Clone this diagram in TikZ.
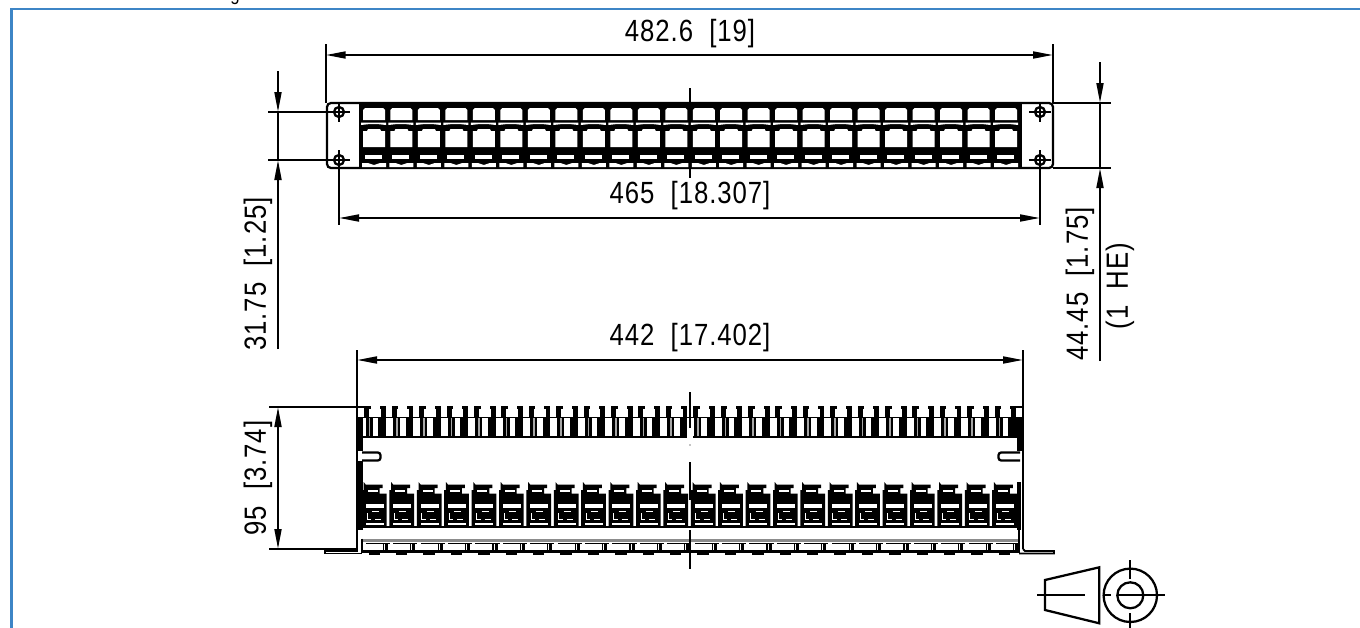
\documentclass[tikz,border=0pt]{standalone}
\usepackage{fontspec}
\setmainfont[FakeStretch=.84,LetterSpace=3,WordSpace=2]{Liberation Sans}
\usetikzlibrary{arrows.meta}
\definecolor{framecolor}{HTML}{3D85C6}
\tikzset{
  part/.style={line width=1.7pt,black},
  thinpart/.style={line width=1.4pt,black},
  dimline/.style={line width=1.5pt,black},
  dimarrow/.style={dimline,-{Triangle[length=15pt,width=5.2pt]}},
  dimboth/.style={dimline,{Triangle[length=15pt,width=5.2pt]}-{Triangle[length=15pt,width=5.2pt]}},
  dimtext/.style={inner sep=0pt,font=\fontsize{23}{23}\selectfont},
  hole/.pic={
    \draw[part] (0,0) circle (5);
    \draw[thinpart] (-11,0) -- (11,0);
    \draw[part,line width=2.2pt] (0,-10) -- (0,10);
  }
}
\begin{document}
\begin{tikzpicture}[x=0.75pt,y=-0.75pt]
  \useasboundingbox (0,0) rectangle (1360,628);
  \draw[framecolor,line width=2.2pt] (11.5,628) -- (11.5,9) -- (1360,9);
  \node[anchor=base,inner sep=0pt,font=\fontsize{15}{15}\selectfont] (cutoff) at (235,0) {g};

  % front view
  \draw[part,rounded corners=3pt] (327,103) rectangle (1053,168);
  \fill[black] (359,103) rectangle (1022,168);
  \foreach \i in {0,...,23}{
    \begin{scope}[xshift=\i*20.61pt]
      \fill[white] (363,110) -- (365,108) -- (383,108) -- (385,110) -- (385,120) -- (363,120) -- cycle;
      \fill[white] (361,122.5) -- (386,122.5) -- (386,125) -- (377,124) -- (370,124) -- (361,125) -- cycle;
      \fill[white] (363,131) -- (367,131) -- (368,129) -- (380,129) -- (381,131) -- (385,131) -- (385,147) -- (363,147) -- cycle;
      \fill[white] (365,155) rectangle (382,159);
      \fill[white] (362,163) -- (368,163) -- (374,165) -- (380,163) -- (386,163) -- (386,167) -- (362,167) -- cycle;
    \end{scope}
  }
  \pic at (339,112) {hole};
  \pic at (339,160) {hole};
  \pic at (1040,112) {hole};
  \pic at (1040,160) {hole};
  \draw[thinpart] (690,88) -- (690,103);
  \draw[thinpart] (690,168) -- (690,178);

  % top view
  \fill[black] (362,417) rectangle (1019,437.5);
  \foreach \i in {-1,...,22}{
    \begin{scope}[xshift=\i*20.55pt]
      \fill[white] (386,418) rectangle (393,436);
      \fill[black!35] (396,418) rectangle (397.5,436);
      \fill[white] (400,418) rectangle (405.5,436);
      \fill[black] (391.7,405.5) rectangle (398.3,409);
      \fill[black] (391.7,405.5) rectangle (396.8,417);
    \end{scope}
  }
  \foreach \i in {0,...,23}{
    \begin{scope}[xshift=\i*20.55pt]
      \fill[black] (380,405.5) rectangle (386,409);
      \fill[black] (381.2,405.5) rectangle (386,417);
    \end{scope}
  }
  \fill[white] (363,418) rectangle (366,436);
  \fill[white] (687,436) rectangle (693,438);
  \foreach \i in {0,...,23}{
    \begin{scope}[xshift=\i*20.55pt]
      \fill[black] (362,526) -- (362,490) -- (363.7,490) -- (363.7,482) -- (365.7,484.5) -- (382.7,484.5)
        -- (382.7,488) -- (379.7,488) -- (379.7,493.5) -- (386.7,493.5) -- (386.7,526) -- cycle;
      \fill[white] (367.7,489.5) rectangle (377.7,492);
      \fill[white] (365.7,504) rectangle (383.7,508);
      \fill[white] (365.7,523.3) rectangle (383.7,525);
      \draw[white,line width=.7pt] (367,513) -- (367,519) -- (371,519);
      \draw[white,line width=.7pt] (372,511.5) -- (379,511.5);
      \draw[white,line width=.7pt] (375,519) -- (381,519);
      \fill[black] (365.7,543) rectangle (390,550);
      \fill[white] (365.7,544.2) rectangle (382.7,549.5);
      \fill[white] (384,544.2) rectangle (385,549.5);
      \fill[white] (388,544.2) rectangle (390,549.5);
      \fill[black] (368.5,552) rectangle (380,555);
    \end{scope}
  }
  \fill[black] (362,526) rectangle (1018,527.6);
  \fill[black!45] (362,539) rectangle (1018,541.5);
  \fill[black] (362,550) rectangle (1018,553);
  \fill[black] (358,417) rectangle (362.5,451);
  \fill[black] (358,461) rectangle (362.5,530);
  \fill[black] (1017,417) rectangle (1021.5,451);
  \fill[black] (1017,482) rectangle (1020.5,530);
  \draw[thinpart] (362,538.5) -- (362,553);
  \draw[thinpart] (1019,528) -- (1019,553);
  \draw[part,rounded corners=2pt] (362,452.5) -- (380.5,452.5) -- (380.5,460.5) -- (362,460.5);
  \draw[part,rounded corners=2pt] (1020,452.5) -- (998.5,452.5) -- (998.5,460.5) -- (1020,460.5);
  \draw[thinpart] (357,407) -- (367,407) -- (367,416);
  \draw[thinpart] (1023,407) -- (1014,407);
  \draw[thinpart] (357,549) -- (357,551) -- (325,551) -- (325,553.5) -- (362,553.5);
  \draw[thinpart] (1023,549) -- (1025,551) -- (1054,551) -- (1054,553.5) -- (1019,553.5);
  \draw[thinpart] (690,392) -- (690,428);
  \fill[black] (690,445) circle (.7);
  \draw[thinpart] (690,462) -- (690,500);
  \draw[thinpart] (690,530) -- (690,569);

  % dimensions
  \draw[dimline] (325.7,44) -- (325.7,103);
  \draw[dimline] (1053,44) -- (1053,103);
  \draw[dimboth] (325.7,55) -- (1053,55);
  \node[dimtext] (widthtotal) at (690,34) {482.6 [19]};
  \draw[dimline] (339,160) -- (339,225);
  \draw[dimline] (1040,160) -- (1040,225);
  \draw[dimboth] (339,218) -- (1040,218);
  \node[dimtext] (widthholes) at (690,196) {465 [18.307]};
  \draw[dimline] (268,112) -- (334,112);
  \draw[dimline] (268,160) -- (334,160);
  \draw[dimline] (278,112) -- (278,160);
  \draw[dimarrow] (278,71) -- (278,112);
  \draw[dimarrow] (278,349) -- (278,160);
  \node[dimtext,rotate=90] (heightholes) at (258,274) {31.75 [1.25]};
  \draw[dimline] (1053,103) -- (1111,103);
  \draw[dimline] (1053,168) -- (1111,168);
  \draw[dimline] (1100,103) -- (1100,168);
  \draw[dimarrow] (1100,62) -- (1100,103);
  \draw[dimarrow] (1100,361) -- (1100,168);
  \node[dimtext,rotate=90] (heighttotal) at (1080,284) {44.45 [1.75]};
  \node[dimtext,rotate=90] (heightunits) at (1120,286) {(1 HE)};
  \draw[dimline] (357,350) -- (357,549);
  \draw[dimline] (1023,350) -- (1023,549);
  \draw[dimboth] (357,360) -- (1023,360);
  \node[dimtext] (widthbody) at (690,338) {442 [17.402]};
  \draw[dimline] (269,407) -- (357,407);
  \draw[dimline] (269,549) -- (357,549);
  \draw[dimboth] (278,407) -- (278,549);
  \node[dimtext,rotate=90] (depth) at (258,478) {95 [3.74]};

  % projection symbol
  \draw[part] (1045,580) -- (1099.3,567.3) -- (1099.3,623.3) -- (1045,610) -- cycle;
  \draw[thinpart] (1037.3,595.3) -- (1085.3,595.3);
  \draw[part] (1130.3,595.3) circle (26.7);
  \draw[part] (1130.3,595.3) circle (13);
  \draw[thinpart] (1103,595.3) -- (1111,595.3);
  \draw[thinpart] (1117,595.3) -- (1165,595.3);
  \draw[thinpart] (1130.3,560) -- (1130.3,579);
  \draw[thinpart] (1130.3,613) -- (1130.3,628);
\end{tikzpicture}
\end{document}
